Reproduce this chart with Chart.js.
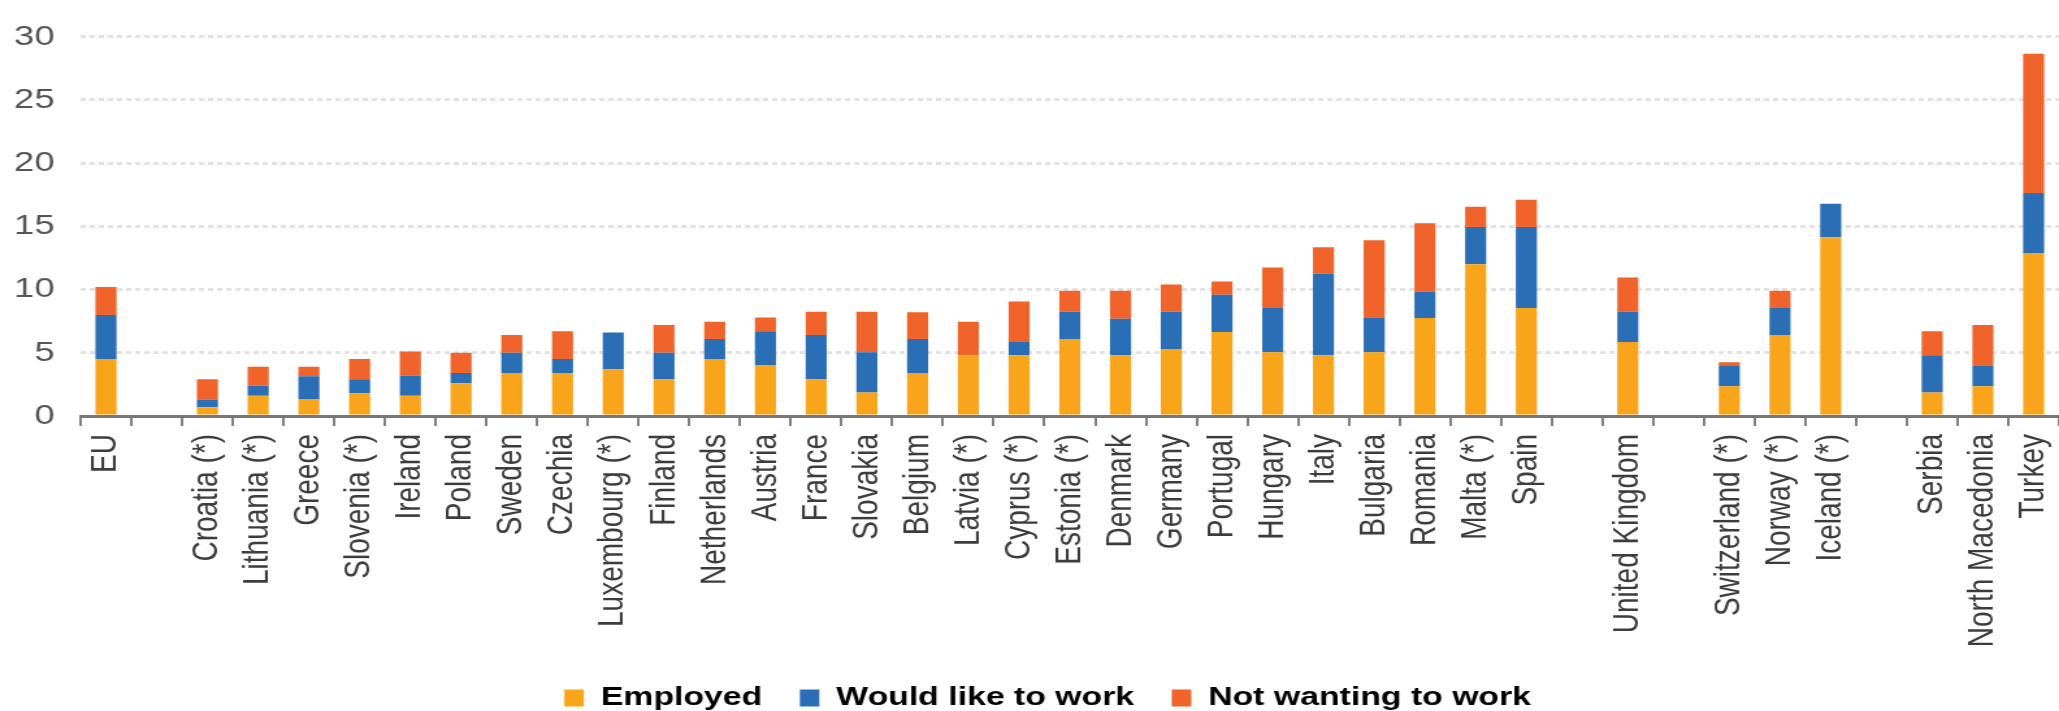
<!DOCTYPE html>
<html>
<head>
<meta charset="utf-8">
<script src="https://cdn.jsdelivr.net/npm/chart.js@4.4.1/dist/chart.umd.min.js"></script>
<style>
  html, body { margin: 0; padding: 0; background: #fff; }
  #chart { display: block; }
</style>
</head>
<body>
<canvas id="chart" width="1584" height="711" style="width:2059px;height:711px"></canvas>
<script>
// categories ("" = empty slot between country groups)
const categories = [
  "EU", "",
  "Croatia (*)", "Lithuania (*)", "Greece", "Slovenia (*)", "Ireland", "Poland", "Sweden",
  "Czechia", "Luxembourg (*)", "Finland", "Netherlands", "Austria", "France", "Slovakia",
  "Belgium", "Latvia (*)", "Cyprus (*)", "Estonia (*)", "Denmark", "Germany", "Portugal",
  "Hungary", "Italy", "Bulgaria", "Romania", "Malta (*)", "Spain", "",
  "United Kingdom", "",
  "Switzerland (*)", "Norway (*)", "Iceland (*)", "",
  "Serbia", "North Macedonia", "Turkey"
];

const employed = [
  4.5, null,
  0.7, 1.6, 1.3, 1.8, 1.6, 2.6, 3.4,
  3.4, 3.7, 2.9, 4.5, 4.0, 2.9, 1.85,
  3.4, 4.8, 4.8, 6.1, 4.8, 5.3, 6.65,
  5.05, 4.8, 5.05, 7.75, 12.0, 8.55, null,
  5.85, null,
  2.35, 6.4, 14.15, null,
  1.85, 2.35, 12.85
];

const wouldLikeToWork = [
  3.5, null,
  0.6, 0.8, 1.85, 1.1, 1.6, 0.8, 1.6,
  1.1, 2.9, 2.1, 1.6, 2.7, 3.5, 3.2,
  2.7, 0, 1.05, 2.15, 2.9, 2.95, 2.95,
  3.5, 6.45, 2.7, 2.1, 2.95, 6.4, null,
  2.4, null,
  1.6, 2.15, 2.65, null,
  2.95, 1.6, 4.8
];

const notWantingToWork = [
  2.2, null,
  1.6, 1.5, 0.75, 1.6, 1.9, 1.6, 1.4,
  2.2, 0, 2.2, 1.35, 1.1, 1.85, 3.2,
  2.1, 2.65, 3.2, 1.65, 2.2, 2.15, 1.05,
  3.2, 2.1, 6.15, 5.4, 1.6, 2.15, null,
  2.7, null,
  0.3, 1.35, 0, null,
  1.9, 3.25, 11.0
];

const yTicks = [0, 5, 10, 15, 20, 25, 30];

const ctx = document.getElementById("chart").getContext("2d");

// nudge the legend a little to the right, like the original
const legendShift = {
  id: "legendShift",
  afterLayout(chart) {
    chart.legend.left += 14;
    chart.legend.right += 14;
  },
};

new Chart(ctx, {
  type: "bar",
  data: {
    labels: categories,
    datasets: [
      { label: "Employed", data: employed, backgroundColor: "#f9a51b" },
      { label: "Would like to work", data: wouldLikeToWork, backgroundColor: "#2a6eb5" },
      { label: "Not wanting to work", data: notWantingToWork, backgroundColor: "#f0632a" },
    ],
  },
  plugins: [legendShift],
  options: {
    responsive: false,
    devicePixelRatio: 1,
    animation: false,
    layout: { padding: { top: 24, bottom: -10, left: 0, right: 0 } },
    datasets: {
      bar: { categoryPercentage: 1, barPercentage: 0.415 },
    },
    plugins: {
      tooltip: { enabled: false },
      legend: {
        position: "bottom",
        labels: {
          boxWidth: 15,
          boxHeight: 17,
          padding: 0,
          color: "#000",
          font: { family: "'Liberation Sans', Arial, sans-serif", size: 26, weight: "bold" },
          generateLabels: (chart) =>
            Chart.defaults.plugins.legend.labels.generateLabels(chart).map((l, i) => {
              if (i < 2) l.text = l.text + "    ";
              return l;
            }),
        },
      },
    },
    scales: {
      x: {
        stacked: true,
        grid: {
          display: true,
          drawOnChartArea: false,
          drawTicks: true,
          tickLength: 10,
          color: "#808080",
          lineWidth: 2,
        },
        border: { display: true, color: "#777", width: 3 },
        ticks: {
          autoSkip: false,
          minRotation: 90,
          maxRotation: 90,
          padding: 8,
          color: "#3c3c3c",
          font: { family: "'Liberation Sans', Arial, sans-serif", size: 28 },
        },
        afterFit: (s) => {
          s.height = 269;
          s.paddingLeft = 0;
          s.paddingRight = 0;
        },
      },
      y: {
        stacked: true,
        min: 0,
        max: 30,
        afterBuildTicks: (s) => {
          s.ticks = yTicks.map((v) => ({ value: v }));
        },
        grid: { color: "#e2e2e2", lineWidth: 3, drawTicks: false },
        border: { display: false, dash: [4, 3] },
        ticks: {
          padding: 20,
          color: "#555",
          font: { family: "'Liberation Sans', Arial, sans-serif", size: 28 },
        },
        afterFit: (s) => {
          s.width = 62;
        },
      },
    },
  },
});
</script>
</body>
</html>
